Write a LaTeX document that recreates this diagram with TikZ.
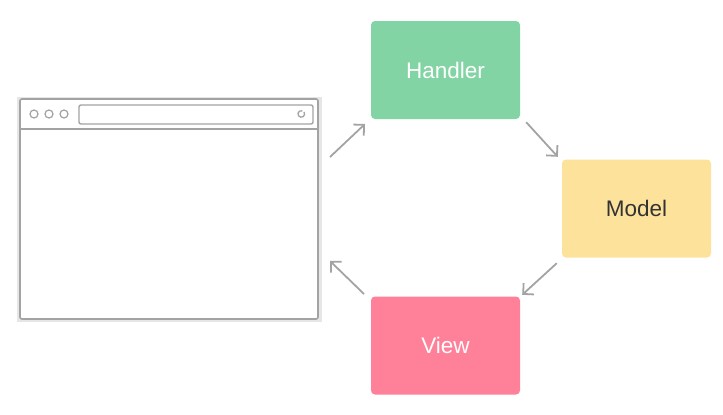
\documentclass[tikz,border=0pt]{standalone}
\usepackage{fontspec}
\setmainfont{Liberation Sans}
\usetikzlibrary{arrows.meta,calc}
\definecolor{hgreen}{HTML}{83D4A4}
\definecolor{myellow}{HTML}{FDE29C}
\definecolor{vpink}{HTML}{FF8099}
\definecolor{lgrey}{HTML}{A3A3A3}
\definecolor{bggrey}{HTML}{E6E6E6}
\begin{document}
\begin{tikzpicture}[x=1pt,y=-1pt,
  box/.style={rounded corners=4pt, minimum width=149pt, minimum height=98pt, inner sep=0pt, font=\fontsize{22.5}{26}\selectfont},
  flow/.style={draw=lgrey, line width=1.8pt, -{Straight Barb[angle=90:9pt 1, line width=1.8pt]}},
  frame/.style={draw=lgrey, line width=1.6pt}]
\useasboundingbox (0,0) rectangle (723,415);
% browser
\fill[bggrey] (17,97) rectangle (322,322);
\draw[frame, fill=white, rounded corners=2pt] (20,99) rectangle (318,319);
\draw[frame] (20,129) -- (318,129);
\foreach \cx in {34,49,64} \draw[lgrey, line width=1.2pt] (\cx,114) circle (4);
\draw[frame, rounded corners=2pt, line width=1.4pt] (79,105) rectangle (313,124);
\draw[lgrey, line width=1.3pt] (304,112) arc (-35:290:3.3);
% boxes
\node[box, fill=hgreen, text=white] (handler) at (445.5,70) {Handler};
\node[box, fill=myellow, text=black!80] (model) at (636.5,208.5) {Model};
\node[box, fill=vpink, text=white] (view) at (445.5,345.5) {View};
\coordinate (a1s) at (330,157); \coordinate (a1e) at (365,124);
\coordinate (a4s) at (364,294); \coordinate (a4e) at (330,261);
\draw[flow] (a1s) -- (a1e);
\draw[flow] ($(handler.south east)+(6,3)$) -- ($(model.north west)+(-4,-2.5)$);
\draw[flow] ($(model.south west)+(-5,5.5)$) -- ($(view.north east)+(2,-1.5)$);
\draw[flow] (a4s) -- (a4e);
\end{tikzpicture}
\end{document}
